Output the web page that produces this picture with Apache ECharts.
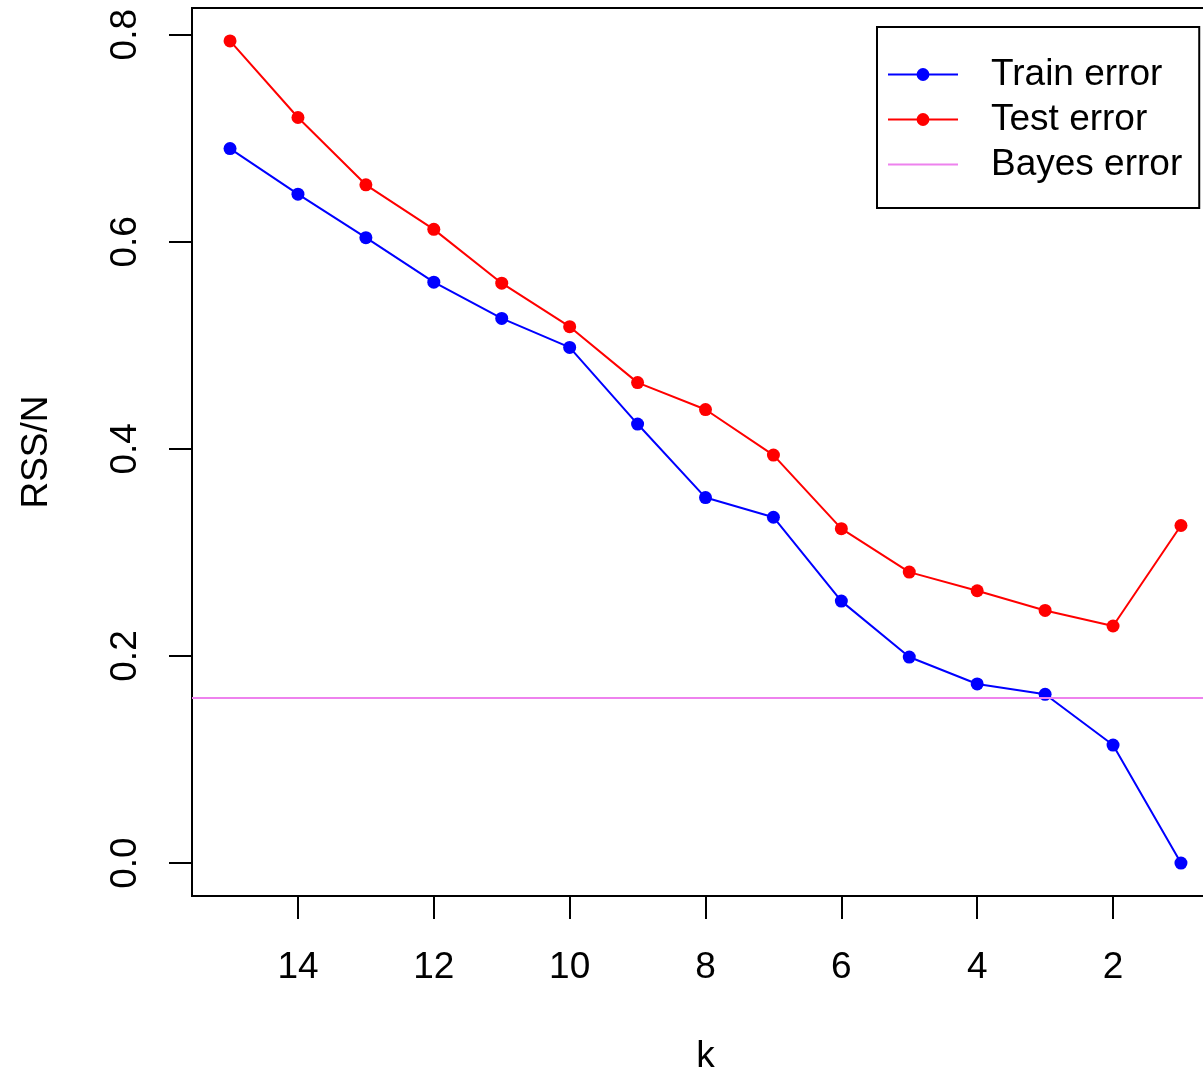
<!DOCTYPE html>
<html>
<head>
<meta charset="utf-8">
<script src="https://cdn.jsdelivr.net/npm/echarts@6/dist/echarts.min.js"></script>
<style>
  html, body { margin: 0; padding: 0; background: #fff; }
  #chart { width: 1203px; height: 1073px; }
</style>
</head>
<body>
<div id="chart"></div>
<script>
// Number of neighbours k, from 15 down to 1
var kValues = [15, 14, 13, 12, 11, 10, 9, 8, 7, 6, 5, 4, 3, 2, 1];
// Mean residual sum of squares per observation
var trainError = [0.690, 0.646, 0.604, 0.561, 0.526, 0.498, 0.424, 0.353, 0.334, 0.253, 0.199, 0.173, 0.163, 0.114, 0.000];
var testError  = [0.794, 0.720, 0.655, 0.612, 0.560, 0.518, 0.464, 0.438, 0.394, 0.323, 0.281, 0.263, 0.244, 0.229, 0.326];
var bayesError = 0.160;
// Tick positions
var xTicks = [2, 4, 6, 8, 10, 12, 14];
var yTicks = [0, 0.2, 0.4, 0.6, 0.8];

function pairs(ys) {
  return kValues.map(function (k, i) { return [k, ys[i]]; });
}

// Axis ranges padded by 4% on each side
var xMin = Math.min.apply(null, kValues), xMax = Math.max.apply(null, kValues);
var xPad = (xMax - xMin) * 0.04;
var allY = trainError.concat(testError);
var yMin = Math.min.apply(null, allY), yMax = Math.max.apply(null, allY);
var yPad = (yMax - yMin) * 0.04;

var FONT = '"Liberation Sans", Arial, Helvetica, sans-serif';
var FS = 37;

var chart = echarts.init(document.getElementById('chart'));
chart.setOption({
  animation: false,
  backgroundColor: '#ffffff',
  grid: {
    left: 192, top: 8, right: -16, bottom: 177,
    outerBoundsMode: 'none',
    containLabel: false,
    show: true, borderColor: '#000', borderWidth: 2, backgroundColor: 'transparent'
  },
  legend: {
    orient: 'vertical',
    left: 877, top: 27,
    padding: [25, 17, 21, 10],
    itemGap: 0,
    itemWidth: 70,
    itemHeight: 16,
    backgroundColor: '#fff',
    borderColor: '#000',
    borderWidth: 2,
    textStyle: { fontFamily: FONT, fontSize: FS, color: '#000', lineHeight: 45, padding: [0, 0, 0, 28] },
    data: [
      { name: 'Train error' },
      { name: 'Test error' },
      { name: 'Bayes error', itemStyle: { opacity: 0 } }
    ]
  },
  xAxis: {
    type: 'value',
    inverse: true,
    min: xMin - xPad,
    max: xMax + xPad,
    name: 'k',
    nameLocation: 'middle',
    nameGap: 142,
    nameTextStyle: { fontFamily: FONT, fontSize: FS, color: '#000' },
    axisLine: { show: false, onZero: false },
    axisTick: { show: true, inside: false, length: 23, customValues: xTicks, lineStyle: { color: '#000', width: 2 } },
    axisLabel: { customValues: xTicks, margin: 53, fontFamily: FONT, fontSize: FS, color: '#000' },
    splitLine: { show: false }
  },
  yAxis: {
    type: 'value',
    min: yMin - yPad,
    max: yMax + yPad,
    name: 'RSS/N',
    nameLocation: 'middle',
    nameGap: 137,
    nameRotate: 90,
    nameTextStyle: { fontFamily: FONT, fontSize: FS, color: '#000' },
    axisLine: { show: false, onZero: false },
    axisTick: { show: true, inside: false, length: 23, customValues: yTicks, lineStyle: { color: '#000', width: 2 } },
    axisLabel: {
      customValues: yTicks, rotate: 90, margin: 48, fontFamily: FONT, fontSize: FS, color: '#000',
      formatter: function (v) { return v.toFixed(1); }
    },
    splitLine: { show: false }
  },
  series: [
    {
      name: 'Train error', type: 'line', data: pairs(trainError),
      symbol: 'circle', symbolSize: 13, showAllSymbol: true,
      itemStyle: { color: '#0000ff' }, lineStyle: { color: '#0000ff', width: 2 }
    },
    {
      name: 'Test error', type: 'line', data: pairs(testError),
      symbol: 'circle', symbolSize: 13, showAllSymbol: true,
      itemStyle: { color: '#ff0000' }, lineStyle: { color: '#ff0000', width: 2 }
    },
    {
      name: 'Bayes error', type: 'line', data: [],
      symbol: 'none',
      itemStyle: { color: '#ee82ee' }, lineStyle: { color: '#ee82ee', width: 2 },
      markLine: {
        silent: true, symbol: 'none', label: { show: false },
        lineStyle: { color: '#ee82ee', width: 2, type: 'solid' },
        data: [{ yAxis: bayesError }]
      }
    }
  ]
});
</script>
</body>
</html>
